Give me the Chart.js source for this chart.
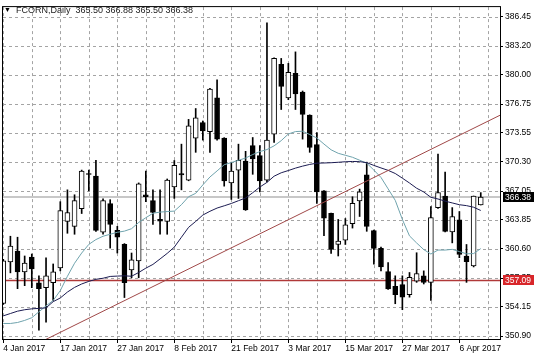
<!DOCTYPE html>
<html><head><meta charset="utf-8">
<script src="https://cdn.jsdelivr.net/npm/chart.js@4.4.0/dist/chart.umd.min.js"></script>
<style>html,body{margin:0;padding:0;background:#fff;overflow:hidden}</style>
</head><body>
<canvas id="c" width="536" height="357"></canvas>
<script>
const symbolName = 'FCORN,Daily';
const dates = ['4 Jan 2017','5 Jan 2017','6 Jan 2017','9 Jan 2017','10 Jan 2017','11 Jan 2017','12 Jan 2017','13 Jan 2017',
'17 Jan 2017','18 Jan 2017','19 Jan 2017','20 Jan 2017','23 Jan 2017','24 Jan 2017','25 Jan 2017','26 Jan 2017',
'27 Jan 2017','30 Jan 2017','31 Jan 2017','1 Feb 2017','2 Feb 2017','3 Feb 2017','6 Feb 2017','7 Feb 2017',
'8 Feb 2017','9 Feb 2017','10 Feb 2017','13 Feb 2017','14 Feb 2017','15 Feb 2017','16 Feb 2017','17 Feb 2017',
'21 Feb 2017','22 Feb 2017','23 Feb 2017','24 Feb 2017','27 Feb 2017','28 Feb 2017','1 Mar 2017','2 Mar 2017',
'3 Mar 2017','6 Mar 2017','7 Mar 2017','8 Mar 2017','9 Mar 2017','10 Mar 2017','13 Mar 2017','14 Mar 2017',
'15 Mar 2017','16 Mar 2017','17 Mar 2017','20 Mar 2017','21 Mar 2017','22 Mar 2017','23 Mar 2017','24 Mar 2017',
'27 Mar 2017','28 Mar 2017','29 Mar 2017','30 Mar 2017','31 Mar 2017','3 Apr 2017','4 Apr 2017','5 Apr 2017',
'6 Apr 2017','7 Apr 2017','10 Apr 2017','11 Apr 2017'];

const opens  = [354.53,359.16,360.37,358.05,359.71,356.84,356.29,356.84,358.49,363.67,363.12,365.10,369.00,368.73,362.46,365.65,
362.68,361.13,358.27,359.27,366.64,365.98,363.90,363.67,367.52,369.00,368.26,372.95,374.67,373.68,377.43,372.95,
367.96,369.39,370.38,372.11,371.01,368.26,373.39,381.17,377.43,380.18,378.09,375.52,372.22,367.08,364.58,361.10,
361.58,363.41,365.95,368.87,362.65,360.66,358.09,356.44,356.62,355.52,357.02,357.61,356.88,365.21,366.50,362.49,
363.85,359.82,358.71,365.50];
const highs  = [359.45,362.02,361.91,359.82,360.04,357.61,359.60,358.93,365.87,367.19,366.64,369.39,369.39,370.49,366.20,366.09,
363.12,361.20,360.15,367.96,369.28,367.19,367.19,368.40,370.46,372.28,375.04,376.25,374.86,378.50,379.44,373.00,
370.27,372.28,371.48,373.02,372.11,385.79,381.90,381.83,381.28,382.56,378.20,375.55,373.57,367.10,364.60,363.89,
363.99,366.42,367.27,370.27,362.70,360.81,359.08,357.61,357.61,357.98,360.18,358.16,365.32,371.18,369.17,365.21,
364.77,361.10,366.50,366.88];
const lows   = [354.42,357.94,356.18,356.51,356.29,351.56,352.44,354.86,358.16,362.35,362.24,364.55,367.08,362.57,362.24,360.70,
360.15,355.19,357.39,357.39,365.87,363.34,362.24,362.24,366.23,367.19,368.20,371.37,372.73,371.37,372.73,367.60,
366.12,366.23,364.90,368.92,366.97,368.07,372.47,376.14,377.24,376.14,372.84,371.37,365.68,362.09,360.11,359.82,
361.10,362.93,364.22,362.57,358.90,358.16,356.10,354.50,353.84,355.23,356.88,356.70,354.86,365.13,362.49,361.28,
359.63,356.88,358.60,365.50];
const closes = [359.27,360.92,358.05,359.04,358.39,356.18,357.61,358.05,364.88,364.66,365.98,369.28,368.90,362.68,365.98,363.34,
361.91,356.84,359.38,367.85,366.42,364.66,363.70,368.29,369.91,368.85,374.31,375.22,373.76,378.42,372.84,368.18,
369.28,370.49,364.96,370.63,368.18,372.73,381.83,378.71,380.29,377.87,375.59,371.92,366.97,364.03,360.55,361.47,
363.30,365.68,366.97,363.12,360.66,358.60,356.15,355.52,355.23,357.43,357.87,356.88,364.11,366.89,362.57,364.22,
359.98,359.19,366.50,366.38];

const maFast = [352.30,352.30,352.41,352.64,352.94,353.60,354.26,354.86,355.96,357.56,359.01,360.15,361.11,361.65,362.02,362.24,
362.46,362.59,362.86,363.56,364.08,364.58,364.71,364.77,364.82,365.54,366.42,366.80,367.74,368.62,369.30,369.99,
370.23,370.48,370.73,371.12,371.45,371.68,372.09,372.67,373.41,373.68,373.72,373.35,372.97,372.29,371.65,371.26,
371.04,370.82,370.49,370.16,369.39,368.57,367.30,366.02,363.89,362.06,361.27,360.53,360.04,360.48,360.48,360.56,
360.31,360.06,360.09,360.64];
const maSlow = [353.15,353.41,353.67,353.83,353.93,353.98,354.04,354.73,355.14,355.80,356.32,356.70,356.99,357.22,357.34,357.54,
357.58,357.61,357.56,357.98,358.46,358.88,359.49,360.11,360.81,361.91,363.01,363.67,364.38,364.80,365.16,365.41,
365.67,365.98,366.28,366.87,367.50,368.02,368.71,369.09,369.34,369.61,369.83,370.02,370.16,370.18,370.21,370.26,
370.32,370.35,370.33,370.22,369.91,369.63,369.36,369.01,368.49,367.95,367.37,366.95,366.36,366.17,365.93,365.73,
365.53,365.43,365.25,364.89];

const trendLine = [{x:0, y:348.18}, {x:70, y:375.62}];
const supportLevel = 357.09;
const yTicks = [350.90,354.15,357.35,360.60,363.85,367.05,370.30,373.55,376.75,380.00,383.20,386.45];
const xGridStep = 4, xLabelStep = 8;

const n = closes.length;
const idx = [...Array(n).keys()];
const lastClose = closes[n-1];
const wicks = idx.map(i => ({x:i, y:[lows[i], highs[i]]}));
const bullBodies = idx.filter(i => closes[i] >= opens[i]).map(i => ({x:i, y:[opens[i], closes[i]]}));
const bearBodies = idx.filter(i => closes[i] < opens[i]).map(i => ({x:i, y:[closes[i], opens[i]]}));
const FONT = 'Liberation Sans, Arial, sans-serif';

const dashedGrid = {
  id:'dashedGrid',
  beforeDatasetsDraw(chart){
    const {ctx, chartArea:a, scales:{x, y}} = chart;
    ctx.save();
    ctx.beginPath(); ctx.rect(a.left, a.top, a.right-a.left, a.bottom-a.top); ctx.clip();
    ctx.strokeStyle = '#a4a4a4'; ctx.lineWidth = 1; ctx.setLineDash([3,3]);
    x.ticks.forEach(t => { const px = Math.round(x.getPixelForValue(t.value)) + 0.5; ctx.beginPath(); ctx.moveTo(px, a.top); ctx.lineTo(px, a.bottom); ctx.stroke(); });
    y.ticks.forEach(t => { const py = Math.round(y.getPixelForValue(t.value)) + 0.5; ctx.beginPath(); ctx.moveTo(a.left, py); ctx.lineTo(a.right, py); ctx.stroke(); });
    ctx.restore();
  }
};

const overlay = {
  id:'overlay',
  afterDraw(chart){
    const {ctx, chartArea:a, scales:{y}} = chart;
    ctx.save();
    ctx.strokeStyle = '#000'; ctx.lineWidth = 1;
    ctx.strokeRect(a.left-0.5, a.top-0.5, a.right-a.left+1, a.bottom-a.top+1);
    const box = (val, bg) => {
      const py = Math.round(y.getPixelForValue(val));
      ctx.fillStyle = bg; ctx.fillRect(a.right+3, py-5, 31, 10);
      ctx.fillStyle = '#fff'; ctx.font = '8.5px ' + FONT; ctx.textBaseline = 'middle'; ctx.textAlign = 'left';
      ctx.fillText(val.toFixed(2), a.right+5, py+0.5);
    };
    box(lastClose, '#000');
    box(supportLevel, '#d8262a');
    ctx.fillStyle = '#000'; ctx.font = '7px ' + FONT; ctx.textBaseline = 'alphabetic';
    ctx.fillText('\u25BC', 4, 12);
    ctx.fillStyle = '#1a1a1a'; ctx.font = '9px ' + FONT;
    ctx.fillText(symbolName + '  ' + [opens[n-1],highs[n-1],lows[n-1],closes[n-1]].map(v=>v.toFixed(2)).join(' '), 16, 12.5);
    ctx.restore();
  }
};

new Chart(document.getElementById('c'), {
  type:'bar',
  data:{ datasets:[
    {type:'line', data:[{x:-2,y:lastClose},{x:72,y:lastClose}], borderColor:'#c8c8c8', borderWidth:2, pointRadius:0, order:20},
    {type:'line', data:[{x:-2,y:supportLevel},{x:72,y:supportLevel}], borderColor:'#b03838', borderWidth:1.5, pointRadius:0, order:19},
    {type:'bar', data:wicks, backgroundColor:'#000', barThickness:1, grouped:false, order:10},
    {type:'bar', data:bullBodies, backgroundColor:'#fff', borderColor:'#000', borderWidth:1, borderSkipped:false, barThickness:5, minBarLength:1, grouped:false, order:9},
    {type:'bar', data:bearBodies, backgroundColor:'#000', borderColor:'#000', borderWidth:1, borderSkipped:false, barThickness:5, minBarLength:1, grouped:false, order:8},
    {type:'line', data:idx.map(i=>({x:i,y:maFast[i]})), borderColor:'#6fa3ad', borderWidth:1, pointRadius:0, tension:0, order:3},
    {type:'line', data:idx.map(i=>({x:i,y:maSlow[i]})), borderColor:'#1c1c52', borderWidth:1, pointRadius:0, tension:0, order:2},
    {type:'line', data:trendLine, borderColor:'#a04848', borderWidth:1, pointRadius:0, order:1}
  ]},
  options:{
    responsive:false, animation:false, events:[],
    layout:{padding:{left:3, top:3, right:0, bottom:0}},
    plugins:{legend:{display:false}, tooltip:{enabled:false}},
    scales:{
      x:{type:'linear', position:'bottom', min:-0.04, max:69.7, offset:false,
         afterBuildTicks:s=>{ const t=[]; for(let v=0; v<=s.max; v+=xGridStep) t.push({value:v}); s.ticks=t; },
         afterFit:s=>{ s.height = 18; },
         grid:{offset:false, drawOnChartArea:false, drawTicks:true, tickLength:4,
               tickColor:c=> (c.tick && c.tick.value % xLabelStep === 0) ? '#000' : 'rgba(0,0,0,0)'},
         border:{display:false},
         ticks:{autoSkip:false, maxRotation:0, minRotation:0, align:'start', padding:1, color:'#000',
                font:{family:FONT, size:8.5},
                callback:(v)=> (v % xLabelStep === 0 && dates[v]) ? dates[v] : ''}
      },
      y:{type:'linear', position:'right', min:350.57, max:387.55,
         afterBuildTicks:s=>{ s.ticks = yTicks.map(v=>({value:v})); },
         afterFit:s=>{ s.width = 36; },
         grid:{drawOnChartArea:false, drawTicks:true, tickLength:3, tickColor:'#000'},
         border:{display:false},
         ticks:{padding:2, color:'#000', font:{family:FONT, size:8.5}, callback:v=>Number(v).toFixed(2)}
      }
    }
  },
  plugins:[dashedGrid, overlay]
});
</script>
</body></html>
